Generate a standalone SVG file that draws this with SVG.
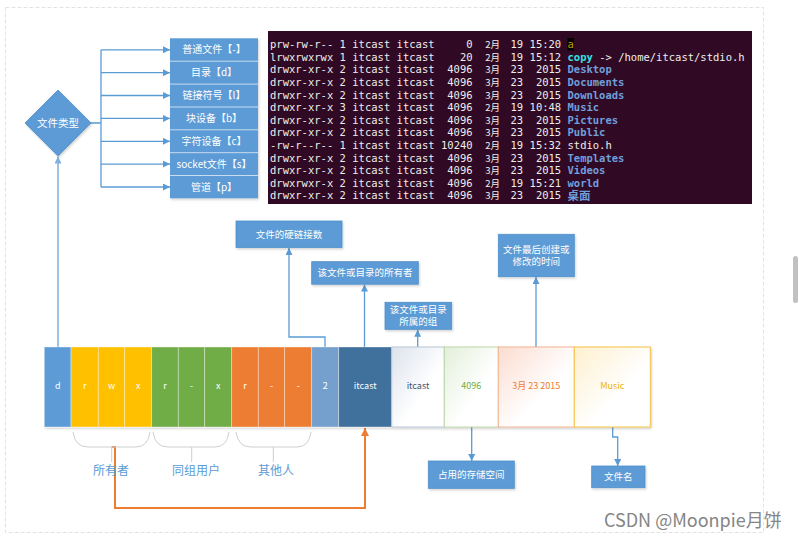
<svg xmlns="http://www.w3.org/2000/svg" width="799" height="541" viewBox="0 0 799 541">
<style>
  .cjk{font-family:"Noto Sans CJK SC","Liberation Sans",sans-serif;}
  .box{fill:#5b9bd5;stroke:#4f8fcb;stroke-width:0.8;}
  .wt{fill:#ffffff;font-size:9.5px;text-anchor:middle;}
  .lst{fill:#ffffff;font-size:10px;text-anchor:middle;}
  .cell{stroke:#ffffff;stroke-opacity:0.45;stroke-width:0.8;}
  .ct{font-size:9px;text-anchor:middle;font-family:"Noto Sans CJK SC","Liberation Sans",sans-serif;}
  .con{fill:none;stroke:#5b9bd5;stroke-width:1.3;}
  .brace{fill:none;stroke:#cfcfcf;stroke-width:1;}
  .lbl{fill:#5b9bd5;font-size:12px;text-anchor:middle;}
  .term text{font-family:"DejaVu Sans Mono","Liberation Mono",monospace;font-size:10.5px;fill:#eeeeec;}
  .term .mon{font-family:"Noto Sans CJK SC",sans-serif;font-size:9.5px;}
  .term .e{text-anchor:end;}
  .term .dir{fill:#6f9fdc;font-weight:bold;}
  .term .pipe{fill:#c4a000;}
  .term .lnk{fill:#34e2e2;font-weight:bold;}
</style>
<defs>
  <marker id="arr" viewBox="0 0 10 10" refX="10" refY="5" markerWidth="7" markerHeight="7" markerUnits="userSpaceOnUse" orient="auto">
    <path d="M0,0 L10,5 L0,10 z" fill="#5b9bd5"/>
  </marker>
  <marker id="arrL" viewBox="0 0 10 10" refX="10" refY="5" markerWidth="7" markerHeight="7" markerUnits="userSpaceOnUse" orient="auto">
    <path d="M0,0 L10,5 L0,10 z" fill="#7fb0e0"/>
  </marker>
  <marker id="arrO" viewBox="0 0 10 10" refX="10" refY="5" markerWidth="8" markerHeight="8" markerUnits="userSpaceOnUse" orient="auto">
    <path d="M0,0 L10,5 L0,10 z" fill="#ed7d31"/>
  </marker>
  <filter id="sh" x="-10%" y="-10%" width="130%" height="140%">
    <feDropShadow dx="1" dy="1.5" stdDeviation="1.2" flood-color="#000" flood-opacity="0.18"/>
  </filter>
  <linearGradient id="gItc" x1="0" y1="0" x2="1" y2="1"><stop offset="0" stop-color="#dde3ec"/><stop offset="0.6" stop-color="#ffffff"/></linearGradient>
  <linearGradient id="gSz" x1="0" y1="0" x2="1" y2="1"><stop offset="0" stop-color="#e3efda"/><stop offset="0.6" stop-color="#ffffff"/></linearGradient>
  <linearGradient id="gDt" x1="0" y1="0" x2="1" y2="1"><stop offset="0" stop-color="#fbdcd0"/><stop offset="0.6" stop-color="#ffffff"/></linearGradient>
  <linearGradient id="gNm" x1="0" y1="0" x2="1" y2="1"><stop offset="0" stop-color="#fff0cf"/><stop offset="0.6" stop-color="#ffffff"/></linearGradient>
</defs>

<rect x="0" y="0" width="799" height="541" fill="#ffffff"/>
<rect x="5.5" y="7.5" width="758" height="525" fill="none" stroke="#e2e2e2" stroke-width="1" stroke-dasharray="4,2"/>
<rect x="793" y="256" width="5" height="47" rx="2.5" fill="#c1c1c1"/>

<!-- terminal -->
<g id="terminal" class="term">
  <rect x="268" y="31" width="484" height="173" fill="#300a24"/>
  <rect x="567.5" y="38" width="6.4" height="12.5" fill="#000000"/>

  <text x="270" y="48">prw-rw-r--</text><text x="339.6" y="48">1</text><text x="352.3" y="48">itcast</text><text x="396.6" y="48">itcast</text><text class="e" x="472.6" y="48">0</text><text class="mon" x="485.2" y="48">2月</text><text x="510.5" y="48">19</text><text class="e" x="561.2" y="48">15:20</text><text class="pipe" x="567.5" y="48">a</text>

  <text x="270" y="60.6">lrwxrwxrwx</text><text x="339.6" y="60.6">1</text><text x="352.3" y="60.6">itcast</text><text x="396.6" y="60.6">itcast</text><text class="e" x="472.6" y="60.6">20</text><text class="mon" x="485.2" y="60.6">2月</text><text x="510.5" y="60.6">19</text><text class="e" x="561.2" y="60.6">15:12</text><text class="lnk" x="567.5" y="60.6">copy</text><text x="599.2" y="60.6">-&gt;</text><text x="618.2" y="60.6">/home/itcast/stdio.h</text>

  <text x="270" y="73.2">drwxr-xr-x</text><text x="339.6" y="73.2">2</text><text x="352.3" y="73.2">itcast</text><text x="396.6" y="73.2">itcast</text><text class="e" x="472.6" y="73.2">4096</text><text class="mon" x="485.2" y="73.2">3月</text><text x="510.5" y="73.2">23</text><text class="e" x="561.2" y="73.2">2015</text><text class="dir" x="567.5" y="73.2">Desktop</text>

  <text x="270" y="85.9">drwxr-xr-x</text><text x="339.6" y="85.9">2</text><text x="352.3" y="85.9">itcast</text><text x="396.6" y="85.9">itcast</text><text class="e" x="472.6" y="85.9">4096</text><text class="mon" x="485.2" y="85.9">3月</text><text x="510.5" y="85.9">23</text><text class="e" x="561.2" y="85.9">2015</text><text class="dir" x="567.5" y="85.9">Documents</text>

  <text x="270" y="98.5">drwxr-xr-x</text><text x="339.6" y="98.5">2</text><text x="352.3" y="98.5">itcast</text><text x="396.6" y="98.5">itcast</text><text class="e" x="472.6" y="98.5">4096</text><text class="mon" x="485.2" y="98.5">3月</text><text x="510.5" y="98.5">23</text><text class="e" x="561.2" y="98.5">2015</text><text class="dir" x="567.5" y="98.5">Downloads</text>

  <text x="270" y="111.1">drwxr-xr-x</text><text x="339.6" y="111.1">3</text><text x="352.3" y="111.1">itcast</text><text x="396.6" y="111.1">itcast</text><text class="e" x="472.6" y="111.1">4096</text><text class="mon" x="485.2" y="111.1">2月</text><text x="510.5" y="111.1">19</text><text class="e" x="561.2" y="111.1">10:48</text><text class="dir" x="567.5" y="111.1">Music</text>

  <text x="270" y="123.7">drwxr-xr-x</text><text x="339.6" y="123.7">2</text><text x="352.3" y="123.7">itcast</text><text x="396.6" y="123.7">itcast</text><text class="e" x="472.6" y="123.7">4096</text><text class="mon" x="485.2" y="123.7">3月</text><text x="510.5" y="123.7">23</text><text class="e" x="561.2" y="123.7">2015</text><text class="dir" x="567.5" y="123.7">Pictures</text>

  <text x="270" y="136.3">drwxr-xr-x</text><text x="339.6" y="136.3">2</text><text x="352.3" y="136.3">itcast</text><text x="396.6" y="136.3">itcast</text><text class="e" x="472.6" y="136.3">4096</text><text class="mon" x="485.2" y="136.3">3月</text><text x="510.5" y="136.3">23</text><text class="e" x="561.2" y="136.3">2015</text><text class="dir" x="567.5" y="136.3">Public</text>

  <text x="270" y="149">-rw-r--r--</text><text x="339.6" y="149">1</text><text x="352.3" y="149">itcast</text><text x="396.6" y="149">itcast</text><text class="e" x="472.6" y="149">10240</text><text class="mon" x="485.2" y="149">2月</text><text x="510.5" y="149">19</text><text class="e" x="561.2" y="149">15:32</text><text x="567.5" y="149">stdio.h</text>

  <text x="270" y="161.6">drwxr-xr-x</text><text x="339.6" y="161.6">2</text><text x="352.3" y="161.6">itcast</text><text x="396.6" y="161.6">itcast</text><text class="e" x="472.6" y="161.6">4096</text><text class="mon" x="485.2" y="161.6">3月</text><text x="510.5" y="161.6">23</text><text class="e" x="561.2" y="161.6">2015</text><text class="dir" x="567.5" y="161.6">Templates</text>

  <text x="270" y="174.2">drwxr-xr-x</text><text x="339.6" y="174.2">2</text><text x="352.3" y="174.2">itcast</text><text x="396.6" y="174.2">itcast</text><text class="e" x="472.6" y="174.2">4096</text><text class="mon" x="485.2" y="174.2">3月</text><text x="510.5" y="174.2">23</text><text class="e" x="561.2" y="174.2">2015</text><text class="dir" x="567.5" y="174.2">Videos</text>

  <text x="270" y="186.8">drwxrwxr-x</text><text x="339.6" y="186.8">2</text><text x="352.3" y="186.8">itcast</text><text x="396.6" y="186.8">itcast</text><text class="e" x="472.6" y="186.8">4096</text><text class="mon" x="485.2" y="186.8">2月</text><text x="510.5" y="186.8">19</text><text class="e" x="561.2" y="186.8">15:21</text><text class="dir" x="567.5" y="186.8">world</text>

  <text x="270" y="199.4">drwxr-xr-x</text><text x="339.6" y="199.4">2</text><text x="352.3" y="199.4">itcast</text><text x="396.6" y="199.4">itcast</text><text class="e" x="472.6" y="199.4">4096</text><text class="mon" x="485.2" y="199.4">3月</text><text x="510.5" y="199.4">23</text><text class="e" x="561.2" y="199.4">2015</text><text class="mon dir" x="567.5" y="200" style="font-size:11.5px">桌面</text>
</g>

<!-- connectors -->
<g id="connectors">
  <path class="con" d="M91,123 H101 M101,49.8 V187"/>
  <path class="con" d="M101,49.8 H170" marker-end="url(#arr)"/>
  <path class="con" d="M101,72.7 H170" marker-end="url(#arr)"/>
  <path class="con" d="M101,95.5 H170" marker-end="url(#arr)"/>
  <path class="con" d="M101,118.4 H170" marker-end="url(#arr)"/>
  <path class="con" d="M101,141.3 H170" marker-end="url(#arr)"/>
  <path class="con" d="M101,164.1 H170" marker-end="url(#arr)"/>
  <path class="con" d="M101,187 H170" marker-end="url(#arr)"/>
  <path d="M58,347 V156.5" fill="none" stroke="#9dc3e6" stroke-width="2" marker-end="url(#arrL)"/>
  <path class="con" d="M325,347 V337 H289 V248" marker-end="url(#arr)"/>
  <path class="con" d="M364.5,347 V284.5" marker-end="url(#arr)"/>
  <path class="con" d="M417.7,347 V329.8" marker-end="url(#arr)"/>
  <path class="con" d="M536,347 V277" marker-end="url(#arr)"/>
  <path class="con" d="M471.7,427 V461" marker-end="url(#arr)"/>
  <path class="con" d="M612.7,427 V437 H617.7 V466" marker-end="url(#arr)"/>
  <path d="M111.7,447 H115 V508 H365 V428" fill="none" stroke="#ed7d31" stroke-width="2" marker-end="url(#arrO)"/>
</g>

<!-- file type diamond -->
<g id="filetype" class="cjk">
  <polygon points="58,90 91,123 58,156 25,123" fill="#5b9bd5" stroke="#4f8fcb" stroke-width="0.8" filter="url(#sh)"/>
  <text x="58" y="126.5" fill="#ffffff" font-size="10.5" text-anchor="middle">文件类型</text>
</g>

<!-- type list -->
<g id="typelist" class="cjk">
  <rect x="170" y="38.3" width="88" height="160" fill="#5b9bd5" filter="url(#sh)"/>
  <path d="M170,61.2 H258 M170,84.1 H258 M170,107 H258 M170,129.8 H258 M170,152.7 H258 M170,175.5 H258" stroke="#c9dcf0" stroke-width="1"/>
  <text class="lst" x="214" y="53.3">普通文件【-】</text>
  <text class="lst" x="214" y="76.2">目录【d】</text>
  <text class="lst" x="214" y="99">链接符号【l】</text>
  <text class="lst" x="214" y="121.9">块设备【b】</text>
  <text class="lst" x="214" y="144.8">字符设备【c】</text>
  <text class="lst" x="214" y="167.6">socket文件【s】</text>
  <text class="lst" x="214" y="190.5">管道【p】</text>
</g>

<!-- annotation boxes -->
<g id="hardlinks" class="cjk">
  <rect class="box" x="236" y="221" width="106" height="26.5" filter="url(#sh)"/>
  <text class="wt" x="289" y="237.5">文件的硬链接数</text>
</g>
<g id="owner" class="cjk">
  <rect class="box" x="311.7" y="261.7" width="106.6" height="22.5" filter="url(#sh)"/>
  <text class="wt" x="365" y="276.2">该文件或目录的所有者</text>
</g>
<g id="group" class="cjk">
  <rect class="box" x="385" y="302.3" width="66.7" height="27" filter="url(#sh)"/>
  <text class="wt" x="418.3" y="313.3">该文件或目录</text>
  <text class="wt" x="418.3" y="325.3">所属的组</text>
</g>
<g id="mtime" class="cjk">
  <rect class="box" x="498.3" y="234.3" width="76" height="42.4" filter="url(#sh)"/>
  <text class="wt" x="536.3" y="252.5">文件最后创建或</text>
  <text class="wt" x="536.3" y="265">修改的时间</text>
</g>
<g id="storage" class="cjk">
  <rect class="box" x="428.3" y="461" width="86" height="27.3" filter="url(#sh)"/>
  <text class="wt" x="471.3" y="478">占用的存储空间</text>
</g>
<g id="filename" class="cjk">
  <rect class="box" x="591.7" y="466" width="53.3" height="21.7" filter="url(#sh)"/>
  <text class="wt" x="618.3" y="480.3">文件名</text>
</g>

<!-- strip -->
<g id="strip" filter="url(#sh)">
  <rect class="cell" x="44.3" y="347" width="26.7" height="80" fill="#5b9bd5"/>
  <rect class="cell" x="71" y="347" width="27.3" height="80" fill="#ffc000"/>
  <rect class="cell" x="98.3" y="347" width="26.4" height="80" fill="#ffc000"/>
  <rect class="cell" x="124.7" y="347" width="27" height="80" fill="#ffc000"/>
  <rect class="cell" x="151.7" y="347" width="26.6" height="80" fill="#70ad47"/>
  <rect class="cell" x="178.3" y="347" width="26.4" height="80" fill="#70ad47"/>
  <rect class="cell" x="204.7" y="347" width="27" height="80" fill="#70ad47"/>
  <rect class="cell" x="231.7" y="347" width="26.6" height="80" fill="#ed7d31"/>
  <rect class="cell" x="258.3" y="347" width="26.4" height="80" fill="#ed7d31"/>
  <rect class="cell" x="284.7" y="347" width="27" height="80" fill="#ed7d31"/>
  <rect class="cell" x="311.7" y="347" width="27" height="80" fill="#759fcc"/>
  <rect class="cell" x="338.7" y="347" width="53" height="80" fill="#41719c"/>
  <rect x="391.7" y="347" width="52.6" height="80" fill="url(#gItc)" stroke="#b8c6da" stroke-width="1"/>
  <rect x="444.3" y="347" width="54" height="80" fill="url(#gSz)" stroke="#bcd8a8" stroke-width="1"/>
  <rect x="498.3" y="347" width="76" height="80" fill="url(#gDt)" stroke="#f2b493" stroke-width="1"/>
  <rect x="574.3" y="347" width="76" height="80" fill="url(#gNm)" stroke="#f5c342" stroke-width="1"/>
</g>
<g id="strip-text" fill="#ffffff">
  <text class="ct" x="57.7" y="389">d</text>
  <text class="ct" x="84.7" y="389">r</text>
  <text class="ct" x="111.5" y="389">w</text>
  <text class="ct" x="138.2" y="389">x</text>
  <text class="ct" x="165" y="389">r</text>
  <text class="ct" x="191.5" y="389">-</text>
  <text class="ct" x="218.2" y="389">x</text>
  <text class="ct" x="245" y="389">r</text>
  <text class="ct" x="271.5" y="389">-</text>
  <text class="ct" x="298.2" y="389">-</text>
  <text class="ct" x="325.2" y="389">2</text>
  <text class="ct" x="365.2" y="389">itcast</text>
  <text class="ct" x="418" y="389" style="fill:#44546a">itcast</text>
  <text class="ct" x="471.3" y="389" style="fill:#70ad47">4096</text>
  <text class="ct" x="536.3" y="389" style="fill:#ed7d31">3月 23 2015</text>
  <text class="ct" x="612.3" y="389" style="fill:#f0b400">Music</text>
</g>

<!-- braces and group labels -->
<g id="owner-group" class="cjk">
  <path class="brace" d="M73,432 Q75,447 88,447 H136 Q148,447 150,432 M111.7,447 V462"/>
  <text class="lbl" x="111" y="475">所有者</text>
</g>
<g id="group-users" class="cjk">
  <path class="brace" d="M153,432 Q155,447 168,447 H215 Q227,447 229,432 M191.7,447 V462"/>
  <text class="lbl" x="196" y="475">同组用户</text>
</g>
<g id="others" class="cjk">
  <path class="brace" d="M236,432 Q238,447 251,447 H297 Q309,447 311,432 M273.3,447 V462"/>
  <text class="lbl" x="276" y="475">其他人</text>
</g>

<text x="604" y="527" class="cjk" font-size="18" fill="#858585" stroke="#ffffff" stroke-width="0.4" paint-order="stroke">CSDN @Moonpie月饼</text>
</svg>
